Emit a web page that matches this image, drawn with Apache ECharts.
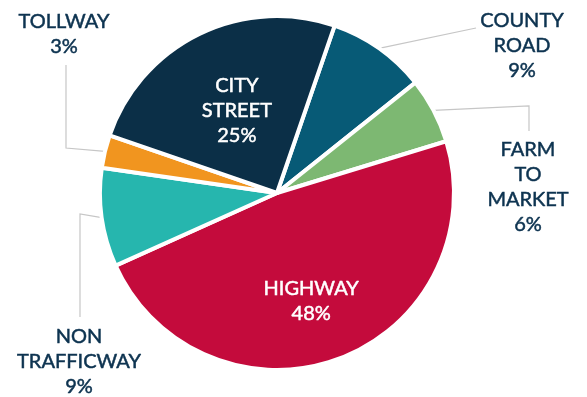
<!DOCTYPE html>
<html>
<head>
<meta charset="utf-8">
<script src="https://cdn.jsdelivr.net/npm/echarts@6/dist/echarts.min.js"></script>
<style>
  html, body { margin: 0; padding: 0; background: #fff; }
  #chart { width: 587px; height: 397px; }
</style>
</head>
<body>
<div id="chart"></div>
<script>
// Crash share by road type (percent), clockwise from the top
const categories = ['COUNTY\nROAD', 'FARM\nTO\nMARKET', 'HIGHWAY', 'NON\nTRAFFICWAY', 'TOLLWAY', 'CITY\nSTREET'];
const shares = [9, 6, 48, 9, 3, 25];
const colors = ['#075a76', '#7db872', '#c40b3c', '#26b6ae', '#f1951f', '#0b2f47'];
const insideLabels = ['HIGHWAY', 'CITY\nSTREET'];

const TEXT = '#0d3350';
const LINE = '#c6c6c6';

// Placement of the outside labels and the bends of their leader lines
const outsideLayout = {
  'COUNTY\nROAD':   { x: 522, y: 46,  bends: [[476, 28]] },
  'FARM\nTO\nMARKET': { x: 528, y: 187, bends: [[529, 106], [529, 131]] },
  'NON\nTRAFFICWAY': { x: 79,  y: 362, bends: [[80, 214], [80, 317]] },
  'TOLLWAY':        { x: 64,  y: 34,  bends: [[66, 148], [66, 65]] }
};

const chart = echarts.init(document.getElementById('chart'));

const data = categories.map((name, i) => {
  const inside = insideLabels.includes(name);
  const c = inside ? '#ffffff' : TEXT;
  return {
    name: name,
    value: shares[i],
    itemStyle: { color: colors[i] },
    label: {
      position: inside ? 'inside' : 'outside',
      color: c,
      textBorderColor: c,
      textBorderWidth: 0.5
    },
    labelLine: { show: !inside }
  };
});

chart.setOption({
  animation: false,
  series: [{
    type: 'pie',
    center: [277, 193],
    radius: [0, 177],
    startAngle: 71,
    clockwise: true,
    avoidLabelOverlap: false,
    data: data,
    itemStyle: { borderColor: '#ffffff', borderWidth: 4 },
    label: {
      formatter: '{b}\n{c}%',
      fontFamily: 'Lato',
      fontSize: 20,
      lineHeight: 25,
      align: 'center'
    },
    labelLine: {
      lineStyle: { color: LINE, width: 1.2 }
    },
    labelLayout: function (params) {
      const name = categories[params.dataIndex];
      const spec = outsideLayout[name];
      if (!spec) {
        return name === 'HIGHWAY' ? { dx: 2, dy: 22 } : {};
      }
      const start = params.labelLinePoints ? params.labelLinePoints[0] : spec.bends[0];
      const pts = [start].concat(spec.bends);
      if (pts.length < 3) pts.push(spec.bends[spec.bends.length - 1]);
      return {
        x: spec.x,
        y: spec.y,
        align: 'center',
        verticalAlign: 'middle',
        labelLinePoints: pts
      };
    }
  }]
});
</script>
</body>
</html>
